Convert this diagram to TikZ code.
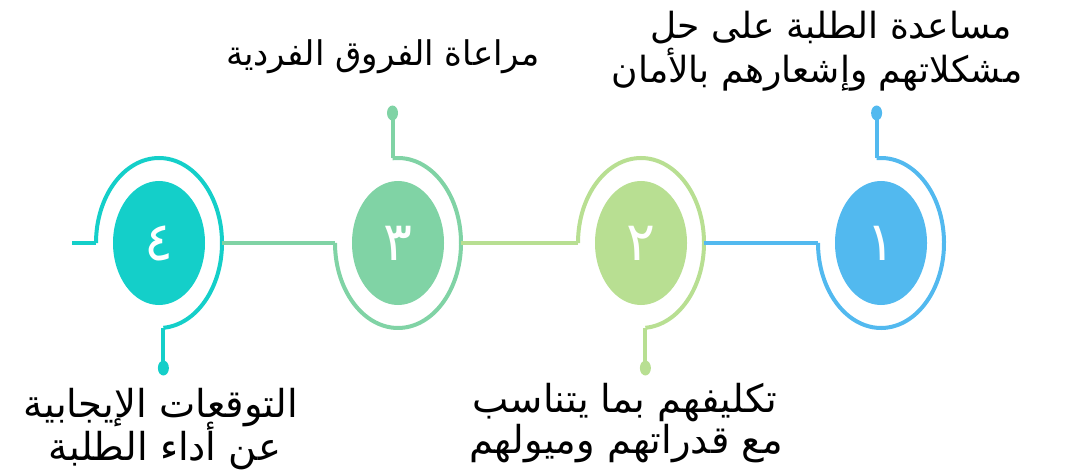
\documentclass[tikz,border=0pt]{standalone}
\usepackage{fontspec}
\TeXXeTstate=1
\newfontfamily\arabicfont[Script=Arabic]{DejaVu Sans}
\usetikzlibrary{shapes.geometric}
\definecolor{cA}{HTML}{52B9EF}
\definecolor{cB}{HTML}{B8DF92}
\definecolor{cC}{HTML}{80D3A5}
\definecolor{cD}{HTML}{14CFC9}
\tikzset{
  disc/.style={ellipse, minimum width=92pt, minimum height=124pt, inner sep=0pt, text=white, font=\arabicfont\fontsize{54}{60}\selectfont},
  ring/.style={line width=4pt},
  bar/.style={line width=4.8pt},
  tip/.style={ellipse, minimum width=11pt, minimum height=15pt, inner sep=0pt},
  lbl/.style={anchor=base, inner sep=0pt, text=black}
}
\begin{document}
\begin{tikzpicture}[x=1pt,y=-1pt]
\useasboundingbox (0,0) rectangle (1086,473);
% circle 1
\node[disc, fill=cA] (c1) at (881,243) {\beginR ١\endR};
\draw[ring, cA] ([shift={(94:63pt and 85pt)}]c1.center) coordinate (s1)
  arc[start angle=94, end angle=-180, x radius=63pt, y radius=85pt] coordinate (l1);
\node[tip, fill=cA] (d1) at (s1 |- 0,113) {};
\draw[ring, cA] (s1) -- (d1.center);
% circle 2
\node[disc, fill=cB] (c2) at (641,243) {\beginR ٢\endR};
\draw[ring, cB] ([shift={(180:63pt and 85pt)}]c2.center) coordinate (l2)
  arc[start angle=180, end angle=-86, x radius=63pt, y radius=85pt] coordinate (s2);
\node[tip, fill=cB] (d2) at (s2 |- 0,368) {};
\draw[ring, cB] (s2) -- (d2.center);
\coordinate (r2) at ([shift={(0:63pt and 85pt)}]c2.center);
\draw[bar, cA] (l1) -- (r2);
% circle 3
\node[disc, fill=cC] (c3) at (398,243) {\beginR ٣\endR};
\draw[ring, cC] ([shift={(95:63pt and 85pt)}]c3.center) coordinate (s3)
  arc[start angle=95, end angle=-180, x radius=63pt, y radius=85pt] coordinate (l3);
\node[tip, fill=cC] (d3) at (s3 |- 0,113) {};
\draw[ring, cC] (s3) -- (d3.center);
\coordinate (r3) at ([shift={(0:63pt and 85pt)}]c3.center);
\draw[bar, cB] (l2) -- (r3);
% circle 4
\node[disc, fill=cD] (c4) at (159,243) {\beginR ٤\endR};
\draw[ring, cD] ([shift={(180:63pt and 85pt)}]c4.center) coordinate (l4)
  arc[start angle=180, end angle=-86, x radius=63pt, y radius=85pt] coordinate (s4);
\node[tip, fill=cD] (d4) at (s4 |- 0,368) {};
\draw[ring, cD] (s4) -- (d4.center);
\coordinate (r4) at ([shift={(0:63pt and 85pt)}]c4.center);
\draw[bar, cC] (l3) -- (r4);
\coordinate (e4) at (72,243);
\draw[bar, cD] (l4) -- (e4);
% labels
\node[lbl, font=\arabicfont\fontsize{36}{44}\selectfont] (t1a) at (831,39) {\beginR مساعدة الطلبة على حل\endR};
\node[lbl, font=\arabicfont\fontsize{36}{44}\selectfont] (t1b) at (817,83) {\beginR مشكلاتهم وإشعارهم بالأمان\endR};
\node[lbl, font=\arabicfont\fontsize{34}{44}\selectfont] (t3) at (383,66) {\beginR مراعاة الفروق الفردية\endR};
\node[lbl, font=\arabicfont\fontsize{38.5}{44}\selectfont] (t2a) at (625,412) {\beginR تكليفهم بما يتناسب\endR};
\node[lbl, font=\arabicfont\fontsize{38.5}{44}\selectfont] (t2b) at (626,453) {\beginR مع قدراتهم وميولهم\endR};
\node[lbl, font=\arabicfont\fontsize{38.5}{44}\selectfont] (t4a) at (161,417) {\beginR التوقعات الإيجابية\endR};
\node[lbl, font=\arabicfont\fontsize{38.5}{44}\selectfont] (t4b) at (165,460) {\beginR عن أداء الطلبة\endR};
\end{tikzpicture}
\end{document}
